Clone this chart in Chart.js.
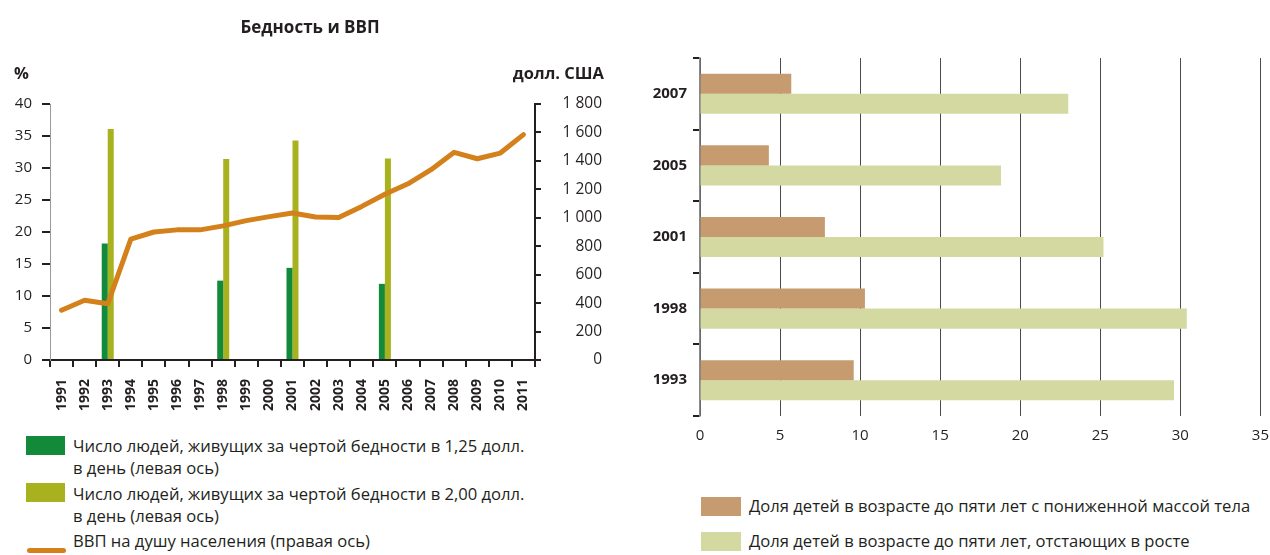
<!DOCTYPE html>
<html>
<head>
<meta charset="utf-8">
<script src="https://cdn.jsdelivr.net/npm/chart.js@4.4.1/dist/chart.umd.min.js"></script>
<style>
  html, body { margin: 0; padding: 0; background: #fff; }
  body { width: 1270px; height: 555px; position: relative; overflow: hidden;
         font-family: 'Open Sans', sans-serif; color: #231f20; }
  .abs { position: absolute; white-space: nowrap; }
  .bold { font-weight: bold; font-size: 16.5px; }
  .leg { position: absolute; font-size: 16.6px; line-height: 21.6px; white-space: nowrap; }
  .sw { position: absolute; }
</style>
</head>
<body>
<div style="position:absolute;left:0;top:0;width:602px;height:425px;"><canvas id="povertyChart"></canvas></div>
<div style="position:absolute;left:600px;top:0;width:680px;height:460px;"><canvas id="childChart"></canvas></div>

<div class="abs bold" style="left:310px;top:15px;transform:translateX(-50%);font-size:17px;">Бедность и ВВП</div>
<div class="abs bold" style="left:14px;top:61px;">%</div>
<div class="abs bold" style="right:666px;top:61px;">долл. США</div>

<div class="sw" style="left:26px;top:436px;width:39px;height:19px;background:#138a3a;"></div>
<div class="leg" style="left:73px;top:435px;">Число людей, живущих за чертой бедности в 1,25 долл.<br>в день (левая ось)</div>
<div class="sw" style="left:26px;top:483px;width:39px;height:19px;background:#a8b21e;"></div>
<div class="leg" style="left:73px;top:483px;">Число людей, живущих за чертой бедности в 2,00 долл.<br>в день (левая ось)</div>
<div class="sw" style="left:27px;top:548px;width:39px;height:5px;border-radius:3px;background:#d4811b;"></div>
<div class="leg" style="left:73px;top:530px;">ВВП на душу населения (правая ось)</div>

<div class="sw" style="left:701px;top:497px;width:40px;height:19px;background:#c59b6f;"></div>
<div class="leg" style="left:749px;top:495px;">Доля детей в возрасте до пяти лет с пониженной массой тела</div>
<div class="sw" style="left:701px;top:532px;width:40px;height:19px;background:#d3d9a0;"></div>
<div class="leg" style="left:749px;top:530px;">Доля детей в возрасте до пяти лет, отстающих в росте</div>

<script>
const years = ['1991','1992','1993','1994','1995','1996','1997','1998','1999','2000','2001',
               '2002','2003','2004','2005','2006','2007','2008','2009','2010','2011'];
const poverty125 = [null, null, 18.2, null, null, null, null, 12.4, null, null, 14.4,
                    null, null, null, 11.9, null, null, null, null, null, null];
const poverty200 = [null, null, 36.1, null, null, null, null, 31.4, null, null, 34.3,
                    null, null, null, 31.5, null, null, null, null, null, null];
const gdpPerCapita = [350, 420, 395, 850, 900, 915, 915, 943, 980, 1008, 1033,
                      1005, 1002, 1080, 1166, 1239, 1338, 1460, 1415, 1455, 1585];

const surveyYears = ['1993', '1998', '2001', '2005', '2007'];
const underweight = [9.6, 10.3, 7.8, 4.3, 5.7];
const stunted = [29.6, 30.4, 25.2, 18.8, 23.0];

const fontFamily = "'Open Sans', sans-serif";
const textColor = '#231f20';

// Бедность и ВВП
const ctxPoverty = document.getElementById('povertyChart').getContext('2d');
const povertyChart = new Chart(ctxPoverty, {
    type: 'bar',
    data: {
        labels: years,
        datasets: [{
            type: 'line',
            label: 'ВВП на душу населения (правая ось)',
            data: gdpPerCapita,
            yAxisID: 'yRight',
            borderColor: '#d4811b',
            borderWidth: 5,
            borderCapStyle: 'round',
            borderJoinStyle: 'round',
            pointRadius: 0,
            tension: 0,
            order: 0
        }, {
            label: 'Число людей, живущих за чертой бедности в 1,25 долл. в день (левая ось)',
            data: poverty125,
            yAxisID: 'yLeft',
            backgroundColor: '#138a3a',
            categoryPercentage: 0.52,
            barPercentage: 1,
            order: 1
        }, {
            label: 'Число людей, живущих за чертой бедности в 2,00 долл. в день (левая ось)',
            data: poverty200,
            yAxisID: 'yLeft',
            backgroundColor: '#a8b21e',
            categoryPercentage: 0.52,
            barPercentage: 1,
            order: 1
        }]
    },
    options: {
        responsive: true,
        maintainAspectRatio: false,
        animation: false,
        layout: { padding: { top: 104, left: 0, right: 0, bottom: 0 } },
        plugins: {
            legend: { display: false },
            tooltip: { enabled: false }
        },
        scales: {
            x: {
                offset: true,
                grid: { offset: true, drawOnChartArea: false, tickLength: 7, color: '#231f20', lineWidth: 2 },
                border: { color: '#231f20', width: 2 },
                ticks: {
                    color: textColor,
                    font: { family: fontFamily, size: 14, weight: 'bold' },
                    minRotation: 90, maxRotation: 90,
                    padding: 12,
                    autoSkip: false
                },
                afterFit: function (scale) { scale.height = 65; }
            },
            yLeft: {
                position: 'left',
                min: 0, max: 40,
                ticks: { stepSize: 5, color: textColor, font: { family: fontFamily, size: 15 }, padding: 10 },
                grid: { drawOnChartArea: false, tickLength: 8, color: '#231f20', lineWidth: 2 },
                border: { color: '#9a9a9a', width: 1 },
                afterFit: function (scale) { scale.width = 50; }
            },
            yRight: {
                position: 'right',
                min: 0, max: 1800,
                ticks: {
                    stepSize: 200,
                    color: textColor,
                    font: { family: fontFamily, size: 15.5 },
                    crossAlign: 'far',
                    padding: 1,
                    callback: function (value) {
                        return value >= 1000 ? Math.floor(value / 1000) + ' ' + String(value % 1000).padStart(3, '0') : String(value);
                    }
                },
                grid: { drawOnChartArea: false, tickLength: 6, color: '#231f20', lineWidth: 2 },
                border: { color: '#231f20', width: 2 },
                afterFit: function (scale) { scale.width = 67; }
            }
        }
    }
});

// Доля детей до пяти лет
const ctxChild = document.getElementById('childChart').getContext('2d');
const childChart = new Chart(ctxChild, {
    type: 'bar',
    data: {
        labels: surveyYears,
        datasets: [{
            label: 'Доля детей в возрасте до пяти лет с пониженной массой тела',
            data: underweight,
            backgroundColor: '#c59b6f',
            categoryPercentage: 0.56,
            barPercentage: 1
        }, {
            label: 'Доля детей в возрасте до пяти лет, отстающих в росте',
            data: stunted,
            backgroundColor: '#d3d9a0',
            categoryPercentage: 0.56,
            barPercentage: 1
        }]
    },
    options: {
        indexAxis: 'y',
        responsive: true,
        maintainAspectRatio: false,
        animation: false,
        layout: { padding: { top: 58, left: 0, right: 17, bottom: 0 } },
        plugins: {
            legend: { display: false },
            tooltip: { enabled: false }
        },
        scales: {
            x: {
                min: 0, max: 35,
                ticks: { stepSize: 5, color: textColor, font: { family: fontFamily, size: 15 }, padding: 11 },
                grid: { drawTicks: false, color: '#4a4a4a', lineWidth: 1 },
                border: { display: false },
                afterFit: function (scale) { scale.height = 44; }
            },
            y: {
                reverse: true,
                offset: true,
                ticks: { color: textColor, font: { family: fontFamily, size: 15, weight: 'bold' }, padding: 6 },
                grid: { offset: true, drawOnChartArea: false, tickLength: 7, color: '#231f20', lineWidth: 2 },
                border: { color: '#8a8a8a', width: 1.5 },
                afterFit: function (scale) { scale.width = 100; }
            }
        }
    }
});
</script>
</body>
</html>
